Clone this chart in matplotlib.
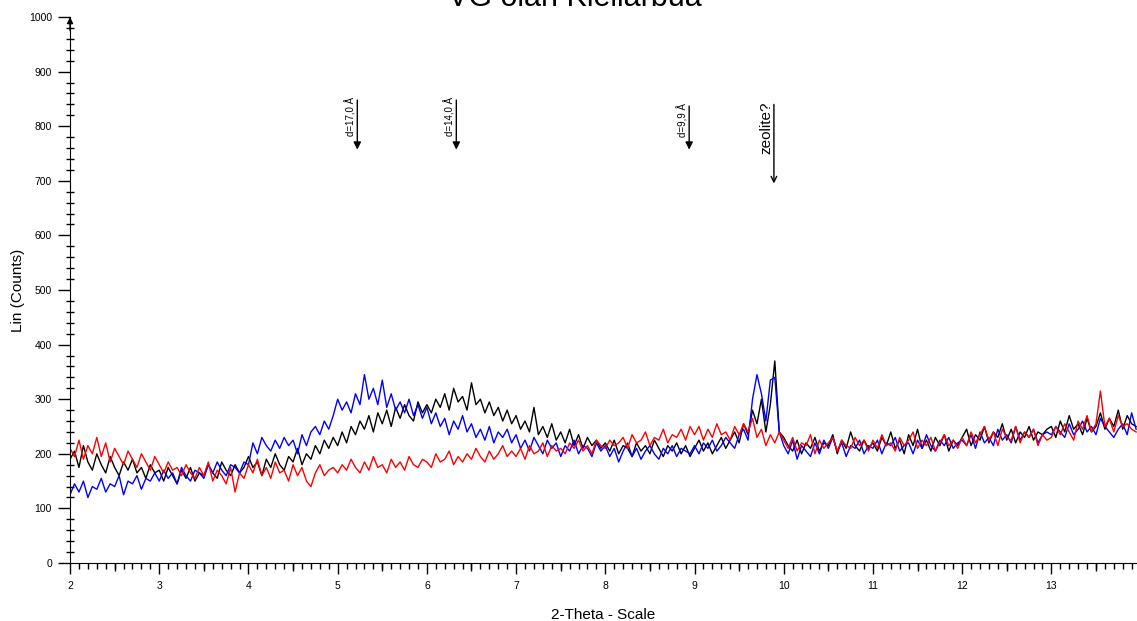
import numpy as np
import matplotlib
matplotlib.use("Agg")
import matplotlib.pyplot as plt
from matplotlib.ticker import MultipleLocator

plt.rcParams['font.family'] = ['Liberation Sans', 'DejaVu Sans']

# 2-theta grid, one value every 0.05 deg from 2.00 to 13.95
theta = np.round(np.arange(240) * 0.05 + 2.0, 2)

# Lin (counts) (one row = 1 deg)
black = [
    190, 205, 175, 215, 185, 170, 200, 180, 165, 195, 175, 160, 185, 170, 190, 165, 175, 155, 180, 165,
    170, 150, 175, 160, 145, 170, 155, 175, 150, 165, 160, 180, 165, 155, 185, 170, 160, 180, 165, 175,
    195, 175, 185, 160, 190, 175, 200, 180, 170, 195, 185, 210, 180, 200, 190, 215, 200, 225, 210, 230,
    215, 240, 220, 250, 235, 260, 245, 270, 240, 275, 255, 280, 250, 285, 265, 290, 270, 260, 295, 275,
    290, 275, 300, 285, 310, 280, 320, 295, 305, 280, 330, 290, 300, 275, 295, 270, 285, 260, 280, 255,
    270, 245, 260, 240, 285, 235, 250, 230, 255, 225, 240, 220, 245, 215, 235, 210, 230, 215, 225, 210,
    220, 205, 225, 200, 215, 210, 195, 220, 205, 215, 200, 225, 210, 195, 215, 205, 220, 200, 215, 195,
    210, 225, 205, 220, 200, 215, 230, 210, 225, 240, 220, 255, 235, 280, 255, 300, 240, 290, 370, 240,
    230, 215, 205, 225, 200, 220, 210, 230, 205, 220, 215, 235, 200, 225, 210, 240, 215, 205, 225, 210,
    220, 205, 230, 215, 240, 210, 225, 200, 235, 215, 245, 210, 225, 205, 230, 215, 235, 205, 225, 215,
    230, 245, 215, 235, 225, 250, 220, 240, 230, 255, 225, 245, 220, 240, 230, 250, 225, 240, 235, 245,
    250, 230, 260, 240, 270, 245, 255, 235, 265, 240, 250, 275, 245, 265, 250, 280, 245, 270, 255, 250,
]
blue = [
    125, 145, 130, 150, 120, 140, 135, 155, 130, 145, 140, 160, 125, 150, 145, 160, 135, 155, 150, 165,
    150, 170, 155, 165, 145, 175, 160, 150, 170, 165, 155, 180, 165, 185, 170, 160, 180, 175, 165, 185,
    180, 220, 200, 230, 215, 205, 225, 210, 230, 215, 225, 200, 235, 215, 240, 250, 235, 260, 245, 270,
    300, 280, 295, 275, 310, 290, 345, 300, 320, 290, 335, 285, 310, 280, 295, 275, 300, 270, 290, 265,
    285, 255, 275, 250, 265, 235, 260, 245, 270, 240, 255, 230, 245, 225, 250, 220, 240, 230, 245, 220,
    235, 210, 225, 205, 230, 215, 200, 225, 210, 220, 195, 215, 205, 225, 200, 215, 210, 195, 220, 205,
    215, 195, 210, 185, 205, 220, 195, 210, 190, 205, 215, 200, 190, 210, 200, 215, 195, 210, 205, 200,
    215, 200, 220, 210, 225, 205, 215, 230, 220, 210, 235, 245, 225, 300, 345, 310, 260, 335, 340, 240,
    215, 200, 225, 190, 215, 205, 195, 220, 200, 225, 210, 230, 205, 220, 195, 215, 210, 225, 200, 215,
    210, 225, 200, 220, 215, 230, 205, 215, 220, 200, 225, 210, 235, 215, 205, 225, 215, 230, 210, 220,
    225, 215, 235, 210, 240, 220, 230, 215, 245, 225, 235, 220, 250, 225, 240, 230, 245, 220, 235, 240,
    235, 250, 240, 230, 255, 235, 245, 260, 240, 250, 235, 265, 250, 240, 230, 245, 255, 235, 275, 245,
]
red = [
    210, 195, 225, 190, 215, 200, 230, 195, 220, 185, 210, 195, 180, 205, 190, 175, 200, 185, 170, 195,
    180, 165, 185, 170, 175, 160, 180, 165, 155, 175, 160, 185, 150, 170, 160, 145, 175, 130, 165, 155,
    180, 165, 190, 160, 175, 155, 185, 165, 170, 150, 180, 160, 175, 150, 140, 165, 180, 160, 170, 175,
    165, 180, 170, 190, 175, 165, 185, 170, 195, 175, 180, 165, 190, 175, 185, 170, 195, 180, 175, 190,
    185, 175, 200, 185, 190, 205, 180, 195, 185, 200, 190, 210, 195, 185, 205, 190, 200, 215, 195, 205,
    195, 210, 190, 215, 200, 205, 220, 195, 215, 205, 210, 200, 220, 210, 225, 205, 215, 200, 225, 215,
    210, 225, 215, 220, 230, 210, 235, 220, 225, 240, 215, 230, 225, 245, 220, 235, 230, 245, 225, 250,
    235, 250, 225, 245, 230, 255, 235, 240, 225, 250, 235, 255, 240, 265, 230, 245, 215, 235, 220, 240,
    225, 210, 230, 205, 220, 215, 235, 200, 225, 210, 220, 230, 205, 225, 215, 210, 230, 215, 225, 205,
    225, 210, 235, 215, 220, 205, 230, 215, 225, 240, 210, 225, 215, 230, 205, 220, 235, 215, 225, 210,
    230, 215, 240, 220, 235, 250, 225, 240, 215, 245, 230, 225, 250, 220, 240, 230, 245, 215, 235, 225,
    230, 250, 235, 255, 240, 225, 260, 245, 270, 240, 255, 315, 250, 265, 240, 270, 250, 255, 245, 240,
]

# peak markers: position, label, top of line, arrow tip
peak_pos = [5.22, 6.33, 8.94]
peak_lab = ['d=17,0 Å', 'd=14,0 Å', 'd=9,9 Å']
peak_top = [853, 853, 842]
peak_tip = [752, 752, 752]

fig = plt.figure(figsize=(11.37, 6.21), dpi=100)
ax = fig.add_axes([0.0616, 0.0934, 0.9384, 0.8792])

ax.plot(theta, black, color='black', lw=1)
ax.plot(theta, blue, color='blue', lw=1)
ax.plot(theta, red, color='red', lw=1)

ax.set_xlim(2, 13.96)
ax.set_ylim(0, 1000)
ax.spines['top'].set_visible(False)
ax.spines['right'].set_visible(False)

ax.xaxis.set_major_locator(MultipleLocator(1))
ax.xaxis.set_minor_locator(MultipleLocator(0.1))
ax.yaxis.set_major_locator(MultipleLocator(100))
ax.yaxis.set_minor_locator(MultipleLocator(20))
ax.tick_params(axis='x', which='major', length=8, width=1, labelsize=7.5, pad=5)
ax.tick_params(axis='x', which='minor', length=4, width=1)
ax.tick_params(axis='y', which='major', length=9, width=1, labelsize=7.5, pad=4)
ax.tick_params(axis='y', which='minor', direction='inout', length=6, width=1)

# half-degree ticks a bit longer
sec = ax.secondary_xaxis('bottom')
sec.set_xticks(np.arange(2.5, 14, 1.0))
sec.tick_params(length=6, width=1, labelbottom=False)
sec.spines['bottom'].set_visible(False)

# arrow on top of the y axis
ax.annotate('', xy=(0, 1.005), xytext=(0, 0.97), xycoords='axes fraction',
            arrowprops=dict(arrowstyle='-|>', color='black', lw=1, mutation_scale=9))

ax.set_xlabel('2-Theta - Scale', fontsize=11, labelpad=12)
ax.set_ylabel('Lin (Counts)', fontsize=11)
ax.yaxis.set_label_coords(-0.042, 0.5)

for x, lab, top, tip in zip(peak_pos, peak_lab, peak_top, peak_tip):
    ax.annotate('', xy=(x, tip), xytext=(x, top),
                arrowprops=dict(arrowstyle='-|>', color='black', lw=1, mutation_scale=11))
    ax.text(x - 0.01, top, lab, rotation=90, ha='right', va='top', fontsize=7)

ax.annotate('', xy=(9.89, 690), xytext=(9.89, 845),
            arrowprops=dict(arrowstyle='->', color='black', lw=1, mutation_scale=10))
ax.text(9.88, 845, 'zeolite?', rotation=90, ha='right', va='top', fontsize=11)

# title sits partly above the top edge, as in the original
fig.text(0.506, 0.99, 'VG olan Kiellarbua', ha='center', va='baseline', fontsize=22)

fig.savefig('out.png', dpi=100)
